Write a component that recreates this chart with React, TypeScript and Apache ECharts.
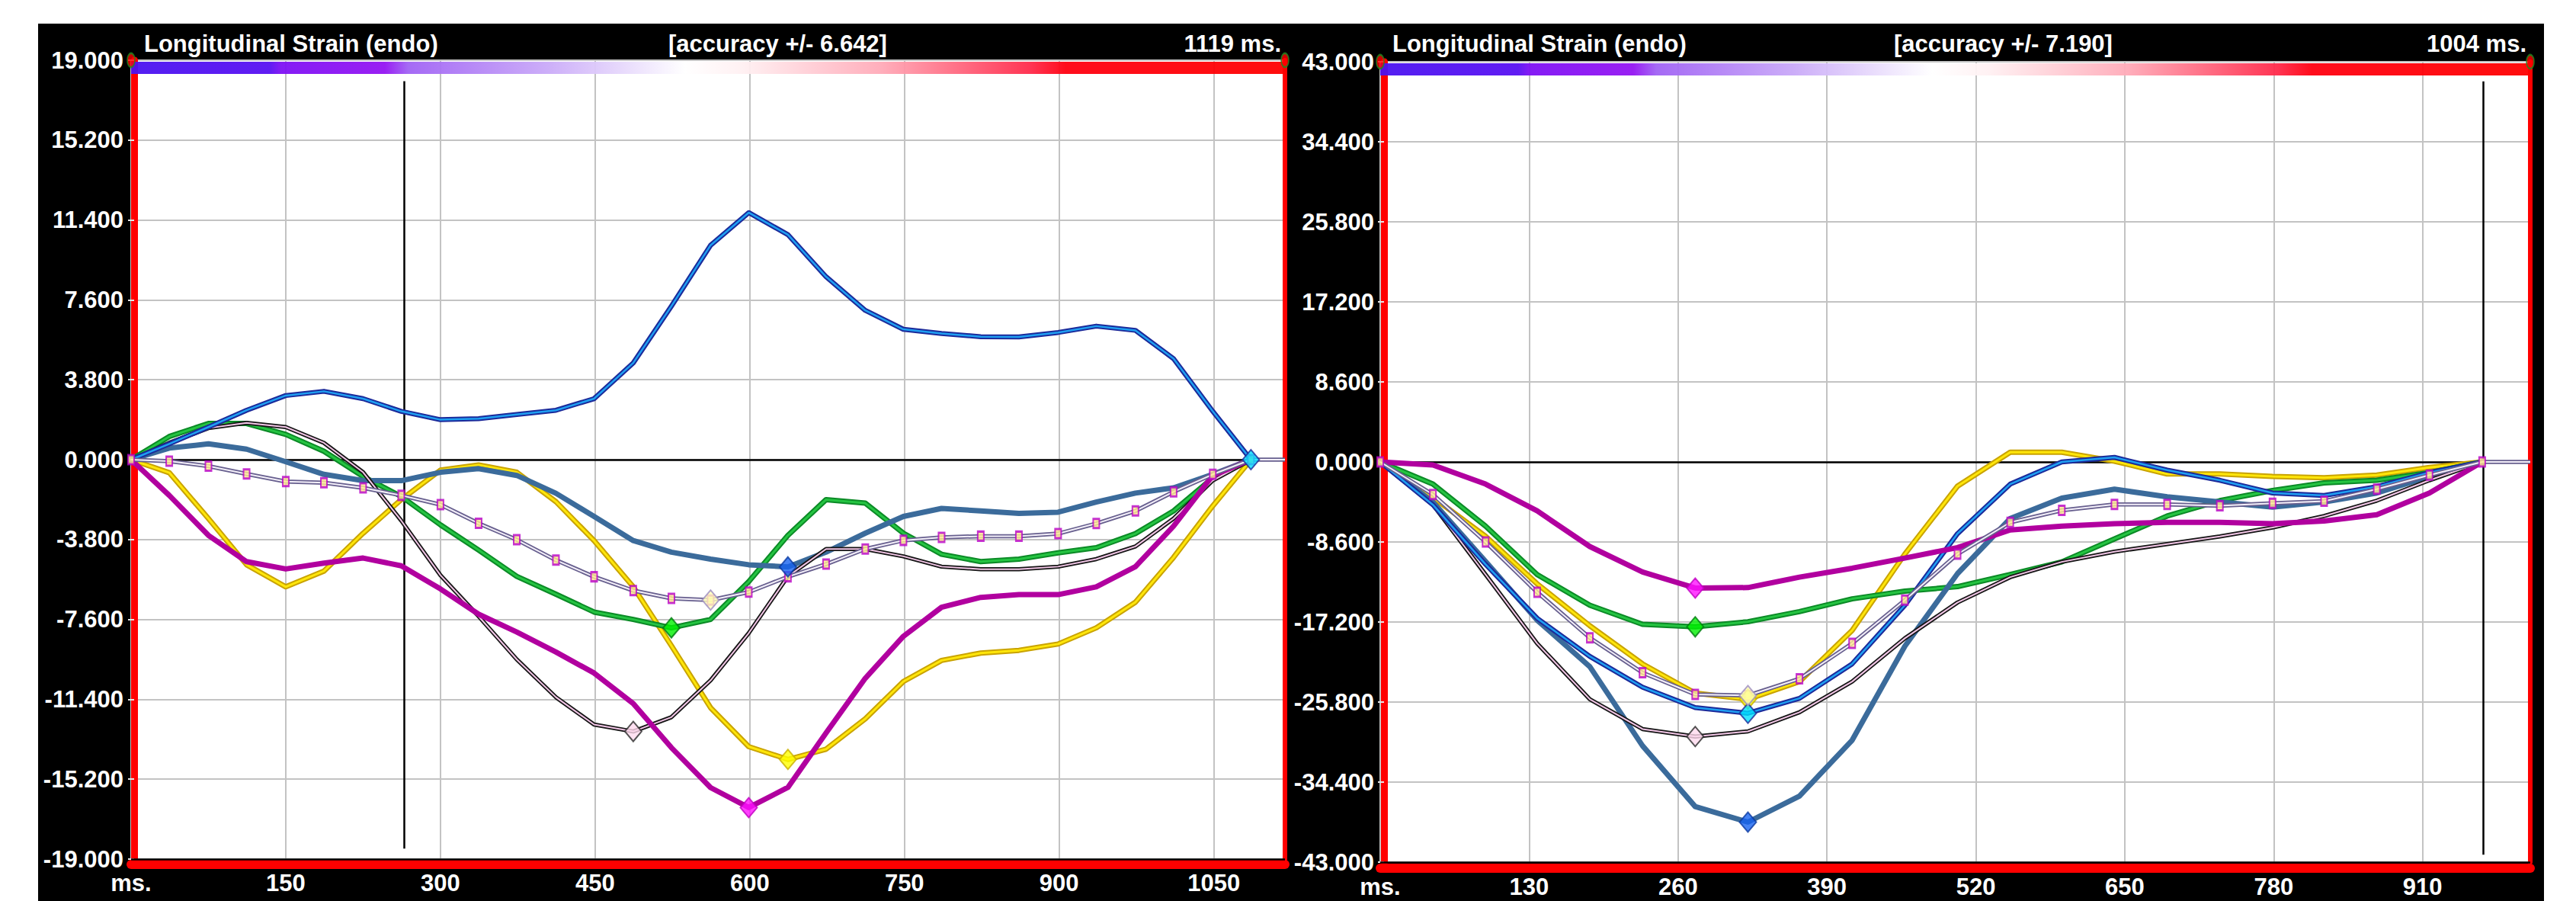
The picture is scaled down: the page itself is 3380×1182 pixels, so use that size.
import React, { useEffect, useRef } from "react";
import * as echarts from "echarts";

// ---------------- LEFT PANEL DATA ----------------
const L_TIMES = [0, 37, 75, 112, 150, 187, 225, 262, 300, 337, 374, 412, 449, 487, 524, 562, 599, 637, 674, 712, 749, 786, 824, 861, 899, 936, 974, 1011, 1049, 1086];
const L_BLUE = [0, 0.75, 1.55, 2.35, 3.05, 3.25, 2.9, 2.3, 1.9, 1.95, 2.15, 2.35, 2.9, 4.6, 7.3, 10.2, 11.75, 10.7, 8.7, 7.1, 6.2, 6.0, 5.85, 5.84, 6.05, 6.35, 6.15, 4.8, 2.3, 0];
const L_STEEL = [0, 0.55, 0.75, 0.5, -0.1, -0.7, -1.0, -1.0, -0.6, -0.43, -0.75, -1.6, -2.7, -3.85, -4.4, -4.73, -5.0, -5.1, -4.4, -3.5, -2.7, -2.32, -2.44, -2.56, -2.5, -2.02, -1.59, -1.34, -0.7, 0];
const L_GREEN = [0, 1.1, 1.72, 1.72, 1.2, 0.4, -0.8, -1.75, -3.1, -4.3, -5.55, -6.4, -7.25, -7.6, -8.0, -7.6, -5.8, -3.6, -1.9, -2.07, -3.5, -4.5, -4.85, -4.73, -4.43, -4.19, -3.52, -2.44, -0.87, 0];
const L_YELLOW = [0, -0.62, -2.8, -5.0, -6.05, -5.3, -3.5, -1.9, -0.5, -0.25, -0.6, -2.0, -3.85, -6.05, -8.85, -11.8, -13.65, -14.26, -13.77, -12.33, -10.55, -9.55, -9.2, -9.07, -8.77, -8.0, -6.78, -4.65, -2.2, 0];
const L_MAGENTA = [0, -1.7, -3.6, -4.85, -5.2, -4.92, -4.68, -5.05, -6.15, -7.35, -8.2, -9.15, -10.15, -11.6, -13.7, -15.6, -16.55, -15.59, -13.0, -10.4, -8.4, -7.02, -6.55, -6.42, -6.42, -6.05, -5.09, -3.16, -0.75, 0];
const L_BLACK = [0, 0.8, 1.5, 1.75, 1.55, 0.8, -0.6, -2.9, -5.5, -7.45, -9.5, -11.3, -12.6, -12.93, -12.25, -10.5, -8.25, -5.55, -4.25, -4.25, -4.6, -5.09, -5.21, -5.21, -5.09, -4.73, -4.13, -2.8, -0.99, 0];
const L_AVG = [0, -0.07, -0.31, -0.68, -1.04, -1.1, -1.34, -1.7, -2.14, -3.03, -3.81, -4.78, -5.57, -6.23, -6.6, -6.68, -6.3, -5.57, -4.97, -4.25, -3.84, -3.7, -3.64, -3.64, -3.52, -3.04, -2.44, -1.53, -0.7, 0];
const L_X_MAX = 1119;
const L_X_STEP = 150;
const L_Y_MAX = 19;
const L_Y_STEP = 3.8;
const L_CURSOR_T = 265;
const L_CURSOR_Y = [18.0, -18.5];
const L_ACCURACY = "[accuracy +/- 6.642]";

// ---------------- RIGHT PANEL DATA ----------------
const R_TIMES = [0, 46, 92, 137, 183, 229, 275, 321, 366, 412, 458, 504, 550, 595, 641, 687, 733, 779, 824, 870, 916, 962];
const R_MAGENTA = [0, -0.33, -2.38, -5.26, -9.09, -11.83, -13.55, -13.5, -12.38, -11.42, -10.33, -9.2, -7.31, -6.9, -6.63, -6.49, -6.49, -6.63, -6.35, -5.67, -3.34, 0];
const R_GREEN = [0, -2.38, -6.9, -12.1, -15.4, -17.45, -17.72, -17.17, -16.08, -14.71, -13.89, -13.4, -12.1, -10.74, -8.27, -5.81, -4.16, -3.07, -2.25, -1.97, -1.15, 0];
const R_YELLOW = [0, -3.8, -8.0, -13.1, -17.6, -21.7, -24.84, -25.5, -23.6, -18.1, -9.9, -2.6, 1.04, 1.04, 0.08, -1.29, -1.29, -1.56, -1.7, -1.42, -0.6, 0];
const R_BLUE = [0, -4.6, -11.0, -16.8, -20.9, -24.2, -26.4, -27.0, -25.4, -21.7, -15.4, -7.7, -2.38, 0, 0.49, -0.88, -1.97, -3.34, -3.6, -2.66, -1.15, 0];
const R_STEEL = [0, -4.3, -10.7, -17.0, -22.0, -30.5, -37.03, -38.7, -35.9, -29.9, -19.8, -12.0, -6.08, -3.89, -2.93, -3.75, -4.3, -4.85, -4.3, -3.34, -1.56, 0];
const R_BLACK = [0, -4.6, -12.1, -19.5, -25.5, -28.7, -29.5, -28.95, -26.9, -23.6, -18.95, -15.1, -12.38, -10.74, -9.64, -8.82, -8.0, -7.04, -5.81, -4.16, -1.97, 0];
const R_AVG = [0, -3.5, -8.6, -14.0, -18.9, -22.65, -24.98, -25.1, -23.3, -19.5, -14.85, -9.9, -6.49, -5.2, -4.57, -4.57, -4.71, -4.44, -4.22, -2.93, -1.42, 0];
const R_X_MAX = 1004;
const R_X_STEP = 130;
const R_Y_MAX = 43;
const R_Y_STEP = 8.6;
const R_CURSOR_T = 963;
const R_CURSOR_Y = [40.9, -42.2];
const R_ACCURACY = "[accuracy +/- 7.190]";

const TITLE = "Longitudinal Strain (endo)";

// ---------------- LAYOUT / STYLE ----------------
const FRAME_LEFT = 50;
const FRAME_TOP = 31;
const CW = 3288;
const CH = 1151;
const FONT = '"Liberation Sans", Arial, Helvetica, sans-serif';

type Layer = { color: string; width: number };
type Sty = { layers: Layer[]; marker: { color: string; border: string } };
const STYLE: Record<string, Sty> = {
  yellow: { layers: [{ color: "#c9a300", width: 7 }, { color: "#ffe60a", width: 3 }], marker: { color: "#ffff00", border: "#c9b000" } },
  green: { layers: [{ color: "#0b8a26", width: 7 }, { color: "#25c442", width: 3 }], marker: { color: "#00f000", border: "#007a10" } },
  steel: { layers: [{ color: "#3b6b9b", width: 7 }], marker: { color: "#1763f0", border: "#0a3aa0" } },
  black: { layers: [{ color: "#161616", width: 5.5 }, { color: "#f2c6e6", width: 2 }], marker: { color: "#ffd9ee", border: "#2a2a2a" } },
  blue: { layers: [{ color: "#1b2a9a", width: 6.5 }, { color: "#1fa0f2", width: 2.5 }], marker: { color: "#00e1ff", border: "#1b2a9a" } },
  magenta: { layers: [{ color: "#b1009f", width: 7 }], marker: { color: "#ff10ff", border: "#c000c0" } },
  avg: { layers: [{ color: "#675f8e", width: 5.5 }, { color: "#f3eff9", width: 2 }], marker: { color: "#ffffb8", border: "#9c8cc0" } },
};

const BAR_STOPS = [
  { offset: 0, color: "#4a12f0" },
  { offset: 0.12, color: "#5810f2" },
  { offset: 0.13, color: "#7e10f4" },
  { offset: 0.22, color: "#9414f2" },
  { offset: 0.24, color: "#a062f4" },
  { offset: 0.36, color: "#c9a9f8" },
  { offset: 0.48, color: "#ffffff" },
  { offset: 0.53, color: "#fff0f2" },
  { offset: 0.65, color: "#ffaab8" },
  { offset: 0.78, color: "#ff2a4a" },
  { offset: 0.81, color: "#ff0010" },
  { offset: 1, color: "#ff0000" },
];

type Panel = {
  times: number[];
  curves: { key: string; vals: number[] }[];
  avg: number[];
  xMax: number; xStep: number; yMax: number; yStep: number;
  cursorT: number; cursorY: number[];
  accuracy: string;
  grid: { left: number; top: number; width: number; height: number };
  yOffset: number; yMargin: number; xOffset: number;
  titleX: number; accX: number;
};

const PANELS: Panel[] = [
  {
    times: L_TIMES,
    curves: [
      { key: "yellow", vals: L_YELLOW },
      { key: "green", vals: L_GREEN },
      { key: "steel", vals: L_STEEL },
      { key: "black", vals: L_BLACK },
      { key: "blue", vals: L_BLUE },
      { key: "magenta", vals: L_MAGENTA },
    ],
    avg: L_AVG,
    xMax: L_X_MAX, xStep: L_X_STEP, yMax: L_Y_MAX, yStep: L_Y_STEP,
    cursorT: L_CURSOR_T, cursorY: L_CURSOR_Y, accuracy: L_ACCURACY,
    grid: { left: 122, top: 48, width: 1514, height: 1048 },
    yOffset: -4, yMargin: 14, xOffset: 7,
    titleX: 139, accX: 827,
  },
  {
    times: R_TIMES,
    curves: [
      { key: "yellow", vals: R_YELLOW },
      { key: "green", vals: R_GREEN },
      { key: "steel", vals: R_STEEL },
      { key: "black", vals: R_BLACK },
      { key: "blue", vals: R_BLUE },
      { key: "magenta", vals: R_MAGENTA },
    ],
    avg: R_AVG,
    xMax: R_X_MAX, xStep: R_X_STEP, yMax: R_Y_MAX, yStep: R_Y_STEP,
    cursorT: R_CURSOR_T, cursorY: R_CURSOR_Y, accuracy: R_ACCURACY,
    grid: { left: 1761, top: 50, width: 1509, height: 1050 },
    yOffset: -5, yMargin: 13, xOffset: 8,
    titleX: 1777, accX: 2435,
  },
];

function peakIndex(vals: number[]) {
  let k = 0;
  vals.forEach((v, i) => { if (v <= vals[k]) k = i; });
  return k;
}

const labelStyle = { color: "#ffffff", fontSize: 31, fontWeight: "bold" as const, fontFamily: FONT };

function buildOption() {
  const grid: any[] = [];
  const xAxis: any[] = [];
  const yAxis: any[] = [];
  const series: any[] = [];
  const graphic: any[] = [];

  PANELS.forEach((p, pi) => {
    grid.push({ ...p.grid, show: true, backgroundColor: "#ffffff", borderWidth: 0, containLabel: false });
    xAxis.push({
      gridIndex: pi, type: "value", min: 0, max: p.xMax, interval: p.xStep, offset: p.xOffset,
      axisLine: { show: true, onZero: false, lineStyle: { color: "#ff0000", width: 12 } },
      axisTick: { show: false },
      axisLabel: { ...labelStyle, margin: 9, showMaxLabel: false, formatter: (v: number) => (v === 0 ? "ms." : String(v)) },
      splitLine: { show: true, lineStyle: { color: "#c3c3c3", width: 2 } },
    });
    const ya = yAxis.length;
    yAxis.push({
      gridIndex: pi, type: "value", min: -p.yMax, max: p.yMax, interval: p.yStep, position: "left", offset: p.yOffset,
      axisLine: { show: true, onZero: false, lineStyle: { color: "#ff0000", width: 9 } },
      axisTick: { show: true, length: 8, lineStyle: { color: "#e6e6e6", width: 2 } },
      axisLabel: { ...labelStyle, margin: p.yMargin, formatter: (v: number) => (Math.abs(v) < 1e-9 ? 0 : v).toFixed(3) },
      splitLine: { show: true, lineStyle: { color: "#c3c3c3", width: 2 } },
    });
    yAxis.push({
      gridIndex: pi, type: "value", min: -p.yMax, max: p.yMax, interval: p.yStep, position: "right",
      axisLine: { show: true, onZero: false, lineStyle: { color: "#ff0000", width: 6 } },
      axisTick: { show: false }, axisLabel: { show: false }, splitLine: { show: false },
    });

    const unit = (2 * p.yMax) / p.grid.height;
    const lastT = p.times[p.times.length - 1];
    const base = { xAxisIndex: pi, yAxisIndex: ya, type: "line", symbol: "none", showSymbol: false, silent: true, smooth: false };

    // helper series carrying the bar, zero line, bottom line and cursor
    series.push({
      ...base, data: [], z: 3,
      markArea: {
        silent: true, z: 1,
        itemStyle: { color: { type: "linear", x: 0, y: 0, x2: 1, y2: 0, colorStops: BAR_STOPS }, opacity: 0.95 },
        data: [[{ coord: [0, p.yMax - 2 * unit] }, { coord: [p.xMax, p.yMax - 18 * unit] }]],
      },
      markLine: {
        silent: true, symbol: ["none", "none"], label: { show: false },
        lineStyle: { color: "#000000", width: 2.5, type: "solid" },
        data: [
          [{ coord: [0, 0] }, { coord: [lastT, 0] }],
          [{ coord: [0, -p.yMax] }, { coord: [p.xMax, -p.yMax] }],
          [{ coord: [p.cursorT, p.cursorY[0]] }, { coord: [p.cursorT, p.cursorY[1]] }],
        ],
      },
    });

    let z = 10;
    const allCurves = [...p.curves, { key: "avg", vals: p.avg }];
    allCurves.forEach((c) => {
      const st = STYLE[c.key];
      const data = p.times.map((t, i) => [t, c.vals[i]]);
      st.layers.forEach((ly) => {
        series.push({ ...base, name: c.key, data, z: z++, lineStyle: { color: ly.color, width: ly.width, join: "round", cap: "round" } });
      });
      if (c.key === "avg") {
        const endV = c.vals[c.vals.length - 1];
        st.layers.forEach((ly) => {
          series.push({ ...base, name: "avg-tail", data: [[lastT, endV], [p.xMax, endV]], z: z++, lineStyle: { color: ly.color, width: ly.width } });
        });
        series.push({
          xAxisIndex: pi, yAxisIndex: ya, type: "scatter", silent: true, symbol: "rect", symbolSize: [8, 12], z: z++,
          itemStyle: { color: "#ffe890", borderColor: "#b800c8", borderWidth: 2.5 },
          data,
        });
      }
    });
    // peak markers
    allCurves.forEach((c) => {
      const st = STYLE[c.key];
      const k = peakIndex(c.vals);
      series.push({
        xAxisIndex: pi, yAxisIndex: ya, type: "scatter", silent: true, symbol: "diamond", symbolSize: [22, 26], z: 60,
        itemStyle: { color: st.marker.color, borderColor: st.marker.border, borderWidth: 2 },
        data: [[p.times[k], c.vals[k]]],
      });
    });
    // corner handles on the top edge of the plot
    series.push({
      xAxisIndex: pi, yAxisIndex: ya, type: "scatter", silent: true, symbol: "circle", symbolSize: [10, 18], z: 70,
      itemStyle: { color: "#ff0000", borderColor: "#1f8a1f", borderWidth: 2 },
      data: [[0, p.yMax], [p.xMax, p.yMax]],
    });

    const tf = 'bold 31px "Liberation Sans", Arial, sans-serif';
    const ty = 26;
    const right = p.grid.left + p.grid.width - 5;
    graphic.push(
      { type: "text", x: p.titleX, y: ty, silent: true, style: { text: TITLE, font: tf, fill: "#ffffff", align: "left", verticalAlign: "middle", textAlign: "left", textVerticalAlign: "middle" } },
      { type: "text", x: p.accX, y: ty, silent: true, style: { text: p.accuracy, font: tf, fill: "#ffffff", align: "left", verticalAlign: "middle", textAlign: "left", textVerticalAlign: "middle" } },
      { type: "text", x: right, y: ty, silent: true, style: { text: `${p.xMax} ms.`, font: tf, fill: "#ffffff", align: "right", verticalAlign: "middle", textAlign: "right", textVerticalAlign: "middle" } },
    );
  });

  return {
    animation: false,
    backgroundColor: "#000000",
    grid, xAxis, yAxis, series, graphic,
  };
}

export default function App() {
  const ref = useRef<HTMLDivElement>(null);
  useEffect(() => {
    const chart = echarts.init(ref.current!, null, { renderer: "svg", width: CW, height: CH });
    chart.setOption(buildOption() as any);
    return () => chart.dispose();
  }, []);
  return (
    <div
      ref={ref}
      style={{ position: "absolute", left: FRAME_LEFT, top: FRAME_TOP, width: CW, height: CH }}
    />
  );
}
